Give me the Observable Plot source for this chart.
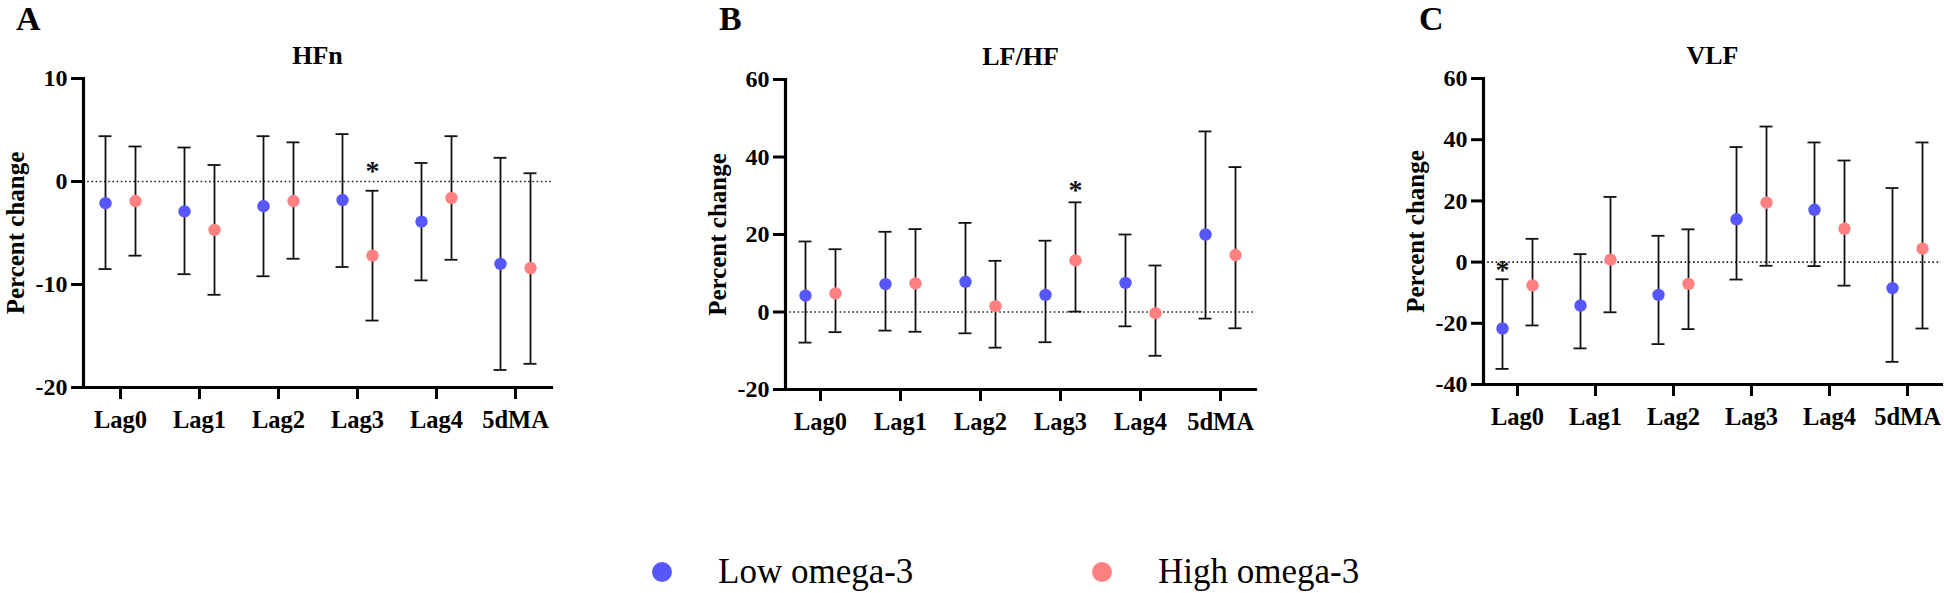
<!DOCTYPE html>
<html><head><meta charset="utf-8">
<script src="https://cdn.jsdelivr.net/npm/d3@7"></script>
<script src="https://cdn.jsdelivr.net/npm/@observablehq/plot@0.6"></script>
<style>
html,body{margin:0;padding:0;background:#fff;overflow:hidden}
#wrap{position:relative;width:1944px;height:593px;overflow:hidden;font-family:'Liberation Serif','Times New Roman','DejaVu Serif',serif;color:#000}
.panel{position:absolute;top:0}
.letter{position:absolute;font-weight:bold;font-size:34px;line-height:1}
.leg{position:absolute;font-size:35px;line-height:1;white-space:nowrap}
.dot{position:absolute;width:20px;height:20px;border-radius:50%}
</style></head><body>
<div id="wrap"></div>
<script>
// ---- data ----
const lags = ["Lag0", "Lag1", "Lag2", "Lag3", "Lag4", "5dMA"];
const groups = ["Low omega-3", "High omega-3"];
const groupColors = ["#5656fb", "#ff8080"];
const yLabel = "Percent change";

// Panel A: HFn
const hfnLowEst  = [-2.1, -2.9, -2.4, -1.8, -3.9, -8.0];
const hfnLowLo   = [-8.5, -9.0, -9.2, -8.3, -9.6, -18.3];
const hfnLowHi   = [4.4, 3.3, 4.4, 4.6, 1.8, 2.3];
const hfnHighEst = [-1.9, -4.7, -1.9, -7.2, -1.6, -8.4];
const hfnHighLo  = [-7.2, -11.0, -7.5, -13.5, -7.6, -17.7];
const hfnHighHi  = [3.4, 1.6, 3.8, -0.9, 4.4, 0.8];
const hfnTicks   = [-20, -10, 0, 10];

// Panel B: LF/HF
const lfhfLowEst  = [4.2, 7.2, 7.8, 4.4, 7.5, 20.0];
const lfhfLowLo   = [-7.9, -4.8, -5.5, -7.8, -3.7, -1.7];
const lfhfLowHi   = [18.2, 20.7, 23.0, 18.4, 20.0, 46.6];
const lfhfHighEst = [4.8, 7.4, 1.5, 13.3, -0.3, 14.7];
const lfhfHighLo  = [-5.2, -5.1, -9.2, 0.1, -11.3, -4.2];
const lfhfHighHi  = [16.2, 21.4, 13.2, 28.3, 12.0, 37.4];
const lfhfTicks   = [-20, 0, 20, 40, 60];

// Panel C: VLF
const vlfLowEst  = [-21.7, -14.2, -10.7, 14.0, 17.1, -8.5];
const vlfLowLo   = [-34.9, -28.2, -26.8, -5.7, -1.3, -32.6];
const vlfLowHi   = [-5.6, 2.6, 8.6, 37.6, 39.1, 24.2];
const vlfHighEst = [-7.6, 0.8, -7.1, 19.4, 10.9, 4.4];
const vlfHighLo  = [-20.7, -16.4, -21.9, -1.2, -7.7, -21.7];
const vlfHighHi  = [7.6, 21.3, 10.7, 44.3, 33.2, 39.1];
const vlfTicks   = [-40, -20, 0, 20, 40, 60];

// significance markers: [lag, group, y]
const hfnStars  = [["Lag3", "High omega-3", 1.5]];
const lfhfStars = [["Lag3", "High omega-3", 32.7]];
const vlfStars  = [["Lag0", "Low omega-3", -1.1]];

// ---- layout ----
const wrap = document.getElementById("wrap");
const serif = "'Liberation Serif','Times New Roman','DejaVu Serif',serif";
const groupDx = [-15, 15];

function rowsFor(lowEst, lowLo, lowHi, highEst, highLo, highHi) {
  const sets = [[lowEst, lowLo, lowHi], [highEst, highLo, highHi]];
  return groups.map((g, gi) => lags.map((lag, i) => ({
    lag, grp: g, est: sets[gi][0][i], lo: sets[gi][1][i], hi: sets[gi][2][i]
  })));
}

function panel({left, width, pad, title, ticks, mt, mb, rows, stars}) {
  const marks = [
    Plot.ruleY([0], {stroke: "#222", strokeWidth: 1.6, strokeDasharray: "1.6,2.6"})
  ];
  rows.forEach((d, gi) => {
    const dx = groupDx[gi];
    const cap = {x1: "lag", x2: "lag", dx, insetLeft: -6.5, insetRight: -6.5, stroke: "#111", strokeWidth: 1.8};
    marks.push(Plot.ruleX(d, {x: "lag", y1: "lo", y2: "hi", dx, stroke: "#111", strokeWidth: 1.8}));
    marks.push(Plot.ruleY(d, {...cap, y: "lo"}));
    marks.push(Plot.ruleY(d, {...cap, y: "hi"}));
    marks.push(Plot.dot(d, {x: "lag", y: "est", dx, r: 6.2, fill: groupColors[gi], stroke: null}));
  });
  stars.forEach(([lag, grp, y]) => {
    marks.push(Plot.text([{lag, y}], {x: "lag", y: "y", text: () => "*", dx: groupDx[groups.indexOf(grp)], dy: 5, fontSize: 28, fontWeight: "bold", fill: "#111", fontFamily: serif}));
  });
  marks.push(Plot.text([title], {frameAnchor: "top", dy: -23, fontSize: 26, fontWeight: "bold", lineAnchor: "middle", fontFamily: serif}));
  marks.push(Plot.text([yLabel], {frameAnchor: "left", rotate: -90, dx: -68, textAnchor: "middle", fontSize: 25, fontWeight: "bold", lineAnchor: "middle", fontFamily: serif}));
  marks.push(Plot.axisX({tickSize: 12, tickPadding: 11, fontSize: 24.5, fontWeight: "bold", fontFamily: serif, strokeWidth: 3, label: null}));
  marks.push(Plot.axisY({ticks, tickFormat: d => String(d), tickSize: 12, tickPadding: 4, fontSize: 24, fontWeight: "bold", fontFamily: serif, strokeWidth: 3, label: null}));
  marks.push(Plot.frame({anchor: "left", strokeWidth: 3.2}));
  marks.push(Plot.frame({anchor: "bottom", strokeWidth: 3.2}));
  const chart = Plot.plot({
    width, height: 440,
    marginLeft: 83, marginRight: 49, marginTop: mt, marginBottom: mb,
    style: {fontFamily: serif, fontWeight: "bold", fontSize: "24px", color: "#000", background: "transparent", overflow: "visible", maxWidth: "none"},
    x: {type: "point", domain: lags, padding: pad},
    y: {domain: [ticks[0], ticks[ticks.length - 1]]},
    marks
  });
  const div = document.createElement("div");
  div.className = "panel";
  div.style.left = left + "px";
  div.appendChild(chart);
  wrap.appendChild(div);
}

panel({left: 0, width: 600, pad: 0.4545, title: "HFn", ticks: hfnTicks, mt: 78, mb: 53,
  rows: rowsFor(hfnLowEst, hfnLowLo, hfnLowHi, hfnHighEst, hfnHighLo, hfnHighHi), stars: hfnStars});
panel({left: 702, width: 602, pad: 0.4375, title: "LF/HF", ticks: lfhfTicks, mt: 79, mb: 51,
  rows: rowsFor(lfhfLowEst, lfhfLowLo, lfhfLowHi, lfhfHighEst, lfhfHighLo, lfhfHighHi), stars: lfhfStars});
panel({left: 1400, width: 590, pad: 0.42, title: "VLF", ticks: vlfTicks, mt: 78, mb: 56,
  rows: rowsFor(vlfLowEst, vlfLowLo, vlfLowHi, vlfHighEst, vlfHighLo, vlfHighHi), stars: vlfStars});

// panel letters
[["A", 16], ["B", 719], ["C", 1419]].forEach(([t, x]) => {
  const el = document.createElement("div");
  el.className = "letter"; el.textContent = t;
  el.style.left = x + "px"; el.style.top = "2px";
  wrap.appendChild(el);
});

// legend
[[662, 718], [1102, 1158]].forEach(([cx, tx], i) => {
  const d = document.createElement("div");
  d.className = "dot"; d.style.background = groupColors[i];
  d.style.left = (cx - 10) + "px"; d.style.top = "562px";
  wrap.appendChild(d);
  const t = document.createElement("div");
  t.className = "leg"; t.textContent = groups[i];
  t.style.left = tx + "px"; t.style.top = "554px";
  wrap.appendChild(t);
});
</script>
</body></html>
